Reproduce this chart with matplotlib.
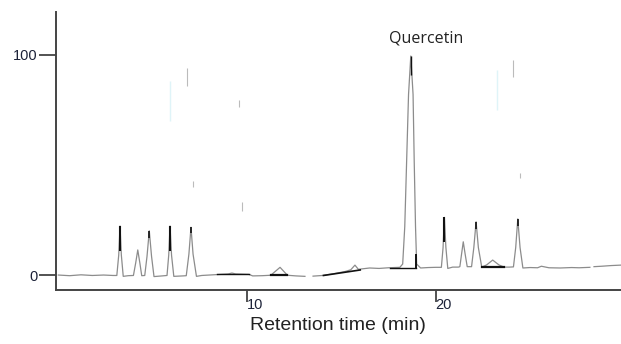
import numpy as np
import matplotlib
matplotlib.use("Agg")
import matplotlib.pyplot as plt

# ---- data ----
# trace segments (time in min, relative signal %); NaN marks gaps in the trace
trace_time = [0.0, 0.6, 1.2, 1.8, 2.4, 2.9,
              3.1, 3.2, 3.27, 3.34, 3.44, 3.7,
              3.98, 4.1, 4.21, 4.32, 4.42,
              4.58, 4.7, 4.82, 4.94, 5.07, 5.5,
              5.76, 5.85, 5.92, 6.0, 6.12, 6.6,
              6.78, 6.92, 7.03, 7.14, 7.32, 7.6,
              8.4, 9.0, 9.2, 9.4, 10.1, 10.3, 10.8, 11.26,
              11.75, 12.14, 12.6, 13.07, np.nan,
              13.5, 14.0, 14.6, 15.2, 15.5, 15.72, 15.9, 16.5, 17.0, 17.5, 18.1,
              18.25, 18.36, 18.46, 18.56, 18.68, 18.8, 18.86, 18.93, 18.99, 19.2,
              19.6, 20.0, 20.3, 20.39, 20.46, 20.54, 20.64, 20.9, 21.2,
              21.28, 21.37, 21.46, 21.56, 21.67, 21.9,
              22.02, 22.14, 22.26, 22.44, 22.7, 23.02, 23.35, 23.62, 23.9,
              24.12, 24.24, 24.35, 24.47, 24.62, 25.0, 25.4, 25.6, 26.0,
              26.6, 27.2, 27.6, 28.17, np.nan,
              28.39, 28.8, 29.3, 29.8]
trace_signal = [0.0, -0.3, 0.1, -0.2, 0.0, -0.2,
                -0.2, 9.0, 22.3, 9.0, -0.6, -0.3,
                -0.2, 5.5, 11.4, 5.5, -0.3,
                -0.2, 8.5, 20.1, 8.5, -0.7, -0.4,
                -0.2, 9.0, 22.3, 9.0, -0.6, -0.4,
                -0.3, 9.5, 21.7, 9.5, -0.6, -0.2,
                0.2, 0.5, 0.9, 0.5, 0.3, -0.4, -0.3, -0.1,
                3.5, -0.1, -0.4, -0.6, np.nan,
                -0.5, -0.2, 0.6, 1.6, 2.4, 4.5, 2.6, 3.2, 3.0, 3.3, 3.5,
                5.0, 22.0, 52.0, 82.0, 99.5, 82.0, 52.0, 22.0, 5.0, 3.2,
                3.4, 3.5, 3.5, 12.5, 26.2, 12.5, 3.0, 3.6, 3.6,
                3.8, 9.5, 15.1, 9.5, 3.8, 3.8,
                12.5, 24.2, 12.5, 3.6, 4.6, 6.8, 4.6, 3.6, 3.6,
                3.7, 12.5, 25.5, 12.5, 3.2, 3.4, 3.3, 4.0, 3.3,
                3.2, 3.4, 3.3, 3.5, np.nan,
                3.8, 4.0, 4.3, 4.5]

# peak apex markers: time, top, bottom of the black mark
mark_time = [3.27, 4.82, 5.92, 7.03, 18.68, 20.46, 22.14, 24.35]
mark_top = [22.3, 20.1, 22.3, 21.7, 99.5, 26.2, 24.2, 25.5]
mark_bottom = [11.0, 17.0, 11.0, 19.0, 91.0, 15.0, 21.0, 22.5]
mark_width = [1.5, 1.2, 1.5, 1.2, 1.0, 1.5, 1.2, 1.2]

# integration baselines: (t0, s0, t1, s1)
base_t0 = [8.41, 11.26, 14.05, 17.57, 18.97, 22.44]
base_s0 = [0.45, -0.1, -0.2, 3.3, 3.3, 3.6]
base_t1 = [10.1, 12.14, 16.0, 18.97, 18.97, 23.62]
base_s1 = [0.45, -0.1, 2.3, 3.3, 9.0, 3.6]
base_width = [1.0, 1.6, 1.2, 1.0, 1.4, 1.6]

# faint scan artifacts (time, bottom, top)
art_time = [6.80, 9.58, 7.14, 9.72, 24.09, 24.47]
art_bot = [86.0, 76.5, 40.0, 29.0, 90.0, 44.0]
art_top = [94.0, 79.5, 42.5, 33.0, 97.5, 46.5]
art_c_time = [5.92, 23.23]
art_c_bot = [70.0, 75.0]
art_c_top = [88.0, 93.0]

x_ticks = [10, 20]
y_ticks = [0, 100]
peak_label = "Quercetin"
peak_label_time = 18.68
x_label = "Retention time (min)"

# ---- plotting ----
fig = plt.figure(figsize=(6.21, 3.44), dpi=100)
L = 55.5 / 621
B = (344 - 290) / 344
ax = fig.add_axes([L, B, 1 - L, (290 - 12) / 344])

ax.plot(trace_time, trace_signal, color="#8c8c8c", lw=0.9, solid_joinstyle="round")
ax.vlines(mark_time, mark_bottom, mark_top, color="#111111", linewidths=mark_width)
for t0, s0, t1, s1, w in zip(base_t0, base_s0, base_t1, base_s1, base_width):
    ax.plot([t0, t1], [s0, s1], color="#111111", lw=w)
ax.vlines(art_time, art_bot, art_top, color="#bbbbbb", lw=0.8)
ax.vlines(art_c_time, art_c_bot, art_c_top, color="#dff4f8", lw=1.0)

ax.annotate(peak_label, xy=(peak_label_time, 107.5), xytext=(15, 0),
            textcoords="offset pixels", ha="center", va="center",
            fontsize=11.5, family="Open Sans", color="#222222")

ax.set_xlim(-0.15, 29.82)
ax.set_ylim(-6.8, 119.5)
for s in ["top", "right"]:
    ax.spines[s].set_visible(False)
for s in ["left", "bottom"]:
    ax.spines[s].set_color("#444444")
    ax.spines[s].set_linewidth(1.4)

ax.set_xticks(x_ticks)
ax.set_xticklabels([str(v) for v in x_ticks], ha="left", family="Liberation Sans",
                   fontsize=10.5, color="#1c2238")
ax.tick_params(axis="x", direction="out", length=8.5, width=1.3, color="#444444", pad=-2.5)
ax.set_yticks(y_ticks)
ax.set_yticklabels([str(v) for v in y_ticks], family="Liberation Sans",
                   fontsize=10.5, color="#1c2238")
ax.tick_params(axis="y", direction="out", length=12.5, width=1.3, color="#444444", pad=0.5)

ax.set_xlabel(x_label, family="Liberation Sans", fontsize=14, color="#222222", labelpad=3)

fig.savefig("out.png", dpi=100)
